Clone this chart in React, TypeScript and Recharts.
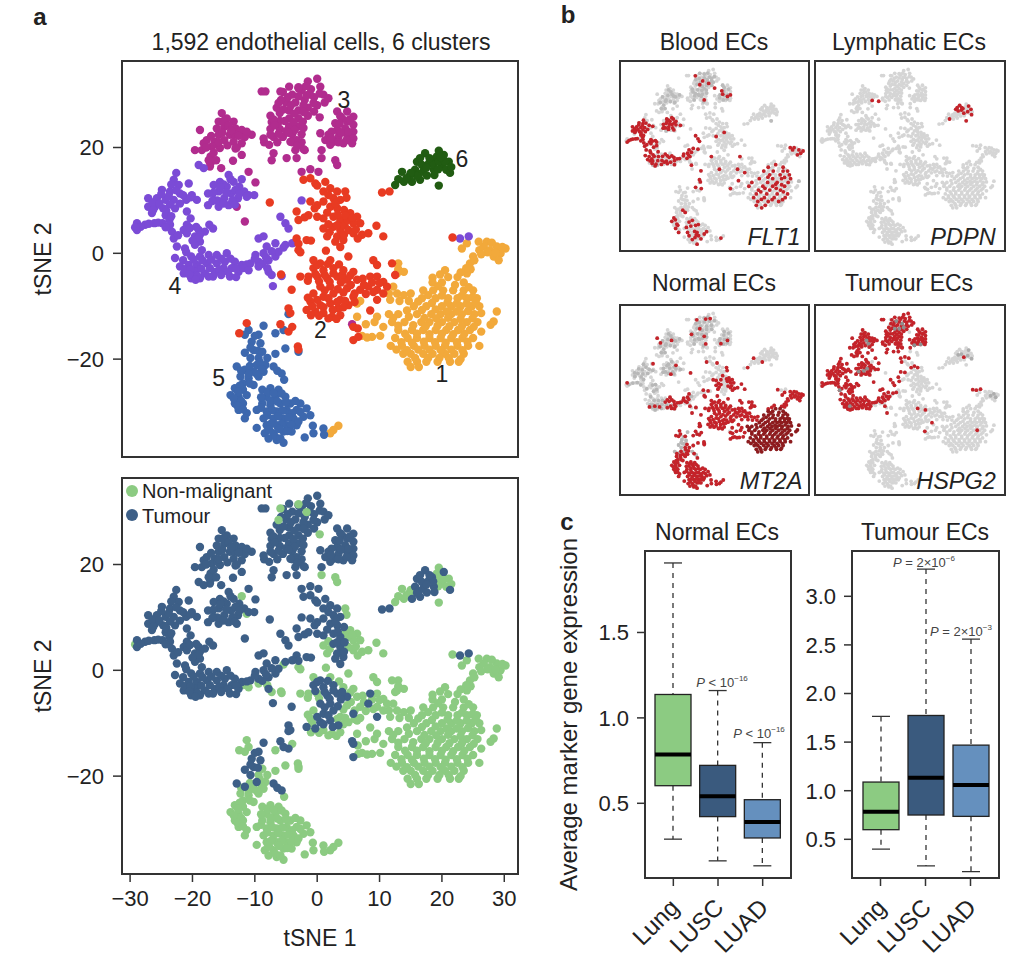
import React from 'react';
import { ScatterChart, Scatter, BarChart, Bar, XAxis, YAxis, ReferenceDot } from 'recharts';

type Pt = [number, number];

// cells, split by cluster and by tumour / non-malignant status
const c1Main: Pt[] = [
  [21, -4.5], [22.5, -4.5], [18.5, -5.5], [20, -5.5], [23.5, -5.5], [17, -7], [18.6, -7], [20.2, -7], [21.8, -7], [23.5, -7], [25, -7],
  [16.8, -8.5], [19, -8.5], [21, -8.5], [22.5, -8.5], [24, -8.5], [25.6, -8.5], [15.5, -10], [17.5, -10], [20, -10], [21.5, -10], [23, -10], [24.8, -10], [26, -10],
  [11.5, -11.5], [13, -11.5], [16, -11.5], [18.3, -11.5], [19.8, -11.5], [21.5, -11.5], [23.2, -11.5], [25.2, -11.5],
  [12, -13], [14, -13], [16.7, -13], [18, -13], [20, -13], [22, -13], [24, -13], [25.7, -13],
  [13, -14.5], [15.2, -14.5], [17, -14.5], [19, -14.5], [20.7, -14.5], [22.6, -14.5], [24.5, -14.5],
  [12.5, -16], [14.5, -16], [16, -16], [18, -16], [19.8, -16], [21.5, -16], [23.3, -16], [25, -16],
  [11.8, -17.5], [13.6, -17.5], [15.5, -17.5], [17.2, -17.5], [19, -17.5], [20.5, -17.5], [22.5, -17.5], [24.2, -17.5], [26, -17.5],
  [13.8, -19], [15, -19], [17, -19], [18.5, -19], [20.5, -19], [22, -19], [23.5, -19],
  [14.5, -20.5], [16, -20.5], [17.5, -20.5], [19.3, -20.5], [21.3, -20.5], [22.7, -20.5], [15, -21.5], [16.3, -21.5],
  [28.8, -11], [28.3, -12.9], [26.3, -14.8], [27.8, -13.5],
  [19.4, -6.2], [22.1, -6], [24.3, -6.4], [17.8, -7.9], [20, -8], [23.2, -8], [24.9, -8.3], [16.2, -9.1], [18.4, -9.4], [20.9, -9.3], [22.4, -9.5], [24, -9.5], [25.4, -9.2],
  [14.4, -10.8], [16.8, -10.7], [19, -10.6], [20.8, -11], [22.4, -11], [24.2, -10.9], [26.3, -11.3], [12.2, -12.2], [14.7, -12], [17.2, -12.2], [19.1, -12.3], [21, -12.2], [23, -12.4], [24.9, -12.3],
  [13, -13.7], [15.4, -13.6], [17.4, -13.8], [19.3, -13.7], [21.2, -13.8], [23.2, -13.8], [25.1, -13.9], [14.1, -15.2], [16, -15.2], [18, -15.3], [20, -15.2], [21.8, -15.3], [23.6, -15.2],
  [13.5, -16.8], [15.2, -16.9], [17.1, -16.7], [18.9, -16.8], [20.6, -16.9], [22.4, -16.8], [24.1, -16.7], [12.7, -18.2], [14.4, -18.3], [16.2, -18.2], [18, -18.2], [19.8, -18.3], [21.5, -18.2], [23.3, -18.3],
  [15.7, -19.8], [17.8, -19.8], [19.6, -19.8], [21.1, -19.8], [23, -20],
];
const c1Tail: Pt[] = [
  [24.5, -1.9], [24, -3.8], [25, -0.6], [26, 0.6], [27.2, 2.2], [28.8, 1.3], [30.2, 0.9], [28.3, -0.6], [26.7, 1.3], [29.4, 0], [25.9, 2.2], [23.2, 0.9], [24, 1.9], [27.7, 0.6], [29.1, -1.3],
  [6.4, -9.5], [6.4, -12], [7.2, -15.6], [8.8, -15.8], [10.1, -15.6], [9.6, -12], [10.6, -13.9], [12.2, -6.3], [11.7, -8.8], [12.8, -7.6], [13.9, -7.9], [15, -7.6], [13, -1.9], [13.9, -3.5], [12.8, -3.8],
  [3.4, -32.6], [2.6, -33.4], [2.1, -34],
  [25.2, -1.3], [27.3, 0.2], [28.6, 0.1], [26.3, -0.2], [24.6, -3], [28, 2], [29.7, 1.2], [23.9, -2.8], [20.5, -3.2], [19.7, -4], [23, -3.6], [18.5, -4.6],
  [11.5, -7.6], [13.2, -9], [14.7, -9], [8, -15.9], [9.2, -13], [6.9, -9], [7.8, -13.4], [13, -3],
];
const c2TUpper: Pt[] = [
  [-2.2, 13.9], [-1.1, 14.2], [-0.3, 13.2], [1.3, 13.5], [2.1, 12.3], [1, 11.7], [3.2, 11.7], [3.7, 10.1], [2.6, 10.4], [-1.1, 9.8], [0, 9.1], [1, 9.8], [2.1, 8.8], [3.2, 8.5], [4.3, 8.2],
  [2.6, 6.9], [3.7, 6.3], [1, 6.6], [0, 6.9], [-1.4, 7.2], [-3.3, 7.9], [-3, 6.3], [2.6, 5], [3.7, 4.4], [-3.3, 2.8], [-1.7, 2.5], [3.2, 3.2], [4.2, 2.5], [3.7, 1.2], [-7.6, 9.6], [10.4, 11.5], [11.6, 11.7],
  [0, 12.8], [1.8, 11], [3, 9.6], [2.9, 9.4], [-0.4, 8.5], [1.6, 7.7], [3.3, 7.3], [-2, 6.8], [3.2, 5.3], [4.4, 5.3], [4.3, 3.5], [2.9, 2.2], [-3, 1.8], [-1, 2.4],
];
const c2TLower: Pt[] = [
  [0.5, -1.9], [1, -3.2], [-0.6, -2.8], [2.6, -2.8], [1.6, -4.7], [3.2, -4.4], [4.8, -5], [2.1, -6.3], [0.5, -6.3], [1, -8.2], [2.6, -7.6], [0.5, -9.8], [2.1, -9.5], [-0.3, -11], [-1.7, -10.7], [3.4, -10.4],
  [5.8, -8.2], [8.5, -4.4], [8.2, -6.3], [9.6, -8.8], [-4.1, -6.9], [-4.6, -10.4], [-4.3, -11.3], [5.8, -13.9], [5.8, -16.4], [-5.9, -13.4], [-4.6, -14.8],
  [0, -2.2], [1.7, -2], [-0.3, -3.9], [1.2, -4.1], [2.6, -3.8], [4, -4.1], [2, -5.4], [3.8, -5.5], [1.2, -7], [3.3, -6.8], [0, -8.8], [1.8, -8.5], [1, -10.2], [2.5, -10.7],
];
const c2N: Pt[] = [
  [4.5, 11.7], [5.3, 7.6], [6.4, 6.9], [6.9, 5.7], [5.8, 5.7], [4.8, 6.3], [1, 4.7], [5, 4.4], [5.8, 3.8], [7.2, 3.5], [8.2, 3.8], [9.5, 5.2], [10.6, 3.2], [1.6, 3.2], [-3, 0.6], [-2.7, 0.2], [1.4, 0.5],
  [-0.6, -1.3], [2.1, -1.3], [5, -0.6], [4.2, -3.2], [5.8, -3.5], [9, -1.3], [9.6, -2.2], [12, -1.9], [12.5, -4.1], [-2.7, -4.4], [-1.4, -4.4], [0, -4.4], [6.4, -5], [9.6, -4.4], [10.6, -5.4], [11.2, -6.3],
  [4.8, -6.6], [6.9, -6.9], [9.6, -6.9], [10.6, -7.6], [-0.6, -7.6], [3.7, -8.8], [-1.1, -9.1], [5, -9.8], [1, -11.3], [2.4, -12], [3.7, -11.7], [8.5, -10.8], [-5.8, -4], [-4, -13.9], [-11.3, -13.2], [-12.5, -15.1],
  [-3.1, -17.6], [-3, -18.2], [6.5, -14.2], [6.6, -15.8], [21.7, 3],
  [4.7, 10.5], [4.5, 7.2], [5.6, 6.7], [1.8, 5.5], [2, 4], [6.2, 4.5], [6.5, 2.8], [3.5, -2.1], [5.3, -4.2], [7.3, -4.8], [8.8, -5.5], [10, -5.6], [-1.5, -5.2], [0.3, -5.3], [5.4, -6], [7.5, -6], [9, -7.3],
  [4.2, -7.4], [6, -7.6], [7.8, -7.7], [3.2, -9.2], [4.5, -9], [6, -9.2], [-1.5, -8.4], [-0.8, -10], [4.2, -10.2], [-1, -11.7], [0.3, -11.8], [1.8, -12.3], [3.1, -12.4],
];
const c3T: Pt[] = [
  [-4.5, 31.5], [-1.5, 32.5], [0, 33], [-5.5, 30.5], [-4, 30], [-2.5, 30.8], [-1, 31], [0.5, 31.5], [1, 30], [-0.5, 29.5], [-2, 29], [-3.5, 28.5], [-5, 28.5], [0, 28], [1.2, 28.5], [-1.5, 27.5], [-3, 27], [-4.5, 27],
  [-6, 26.5], [-7.5, 26], [-6.5, 27.5], [-7.3, 24.8], [-6, 25], [-4.5, 25.5], [-3, 25.5], [-1.5, 26], [-7.5, 23.5], [-6, 23.5], [-4.5, 24], [-3, 24], [-5.5, 22], [-4, 22.5], [-2.5, 22.5], [-7, 22],
  [-4, 21], [-2.5, 21], [-8.5, 21], [-7.7, 20.5], [-3.5, 19.5], [-2, 19.5], [-3.3, 18], [-7, 18.9], [-7.3, 17.6], [-4.9, 18], [-2.2, 19.7], [-3.3, 21.4], [-4.3, 21.1], [-8.6, 21.7], [-7.5, 22.4], [-8.9, 30.6], [-8.3, 30.6], [1.8, 29.3],
  [3.2, 26.8], [4.8, 26.8], [5.8, 25.8], [4, 25.5], [2.9, 24.6], [4.8, 24.9], [5.8, 24.3], [3.2, 23.3], [4.5, 23.6], [5.8, 23], [0.5, 22.7], [1.8, 22.4], [3.4, 22], [4.8, 22.4], [5.8, 21.7], [1.3, 21.4], [2.6, 21.1], [4.2, 20.8], [5.6, 20.8], [2.1, 20.5], [0.7, 19.5],
  [-15.3, 26.5], [-14.5, 25.5], [-15.8, 24.9], [-13.4, 24.9], [-14.9, 23.9], [-16.1, 23.6], [-13.1, 23.6], [-18.8, 23.3], [-12.1, 23.3], [-15.8, 22.4], [-14, 22.4], [-10.5, 22.4], [-11.6, 22], [-17.7, 21.4], [-16.4, 21.1], [-14.9, 21.4], [-13.4, 21.1], [-12.1, 20.8],
  [-18.2, 20.8], [-16.9, 20.2], [-15.6, 19.9], [-19.6, 19.5], [-18.5, 19.5], [-13.1, 19.8], [-12.1, 18.6], [-17.1, 18.3], [-17.1, 17], [-13.5, 17.5], [-15.4, 16.1], [-17.2, 16.4],
  [-2.5, 15.4], [-1.1, 15.9], [0.2, 15.4], [-11, 15.4], [-9.9, 13.4], [-11.6, 6], [-12.9, 8.8], [5.6, -13.4],
];
const c3Fill: Pt[] = [
  [-3, 31.2], [-1.8, 31.6], [-4.7, 29.5], [-3, 29.7], [-1.2, 30], [0.4, 30.2], [-5.8, 29], [-4.2, 28], [-2.2, 28], [-0.6, 28.4], [-5.4, 27.2], [-3.7, 26.4], [-2.2, 26.7], [-0.5, 26.8], [-7, 25.3], [-5.2, 25], [-3.8, 24.8], [-2.3, 24.9], [-6.8, 24.2], [-5, 23.1], [-3.6, 23.3], [-2.2, 23.7], [-6.2, 22.6], [-4.6, 22.8], [-3.2, 20.3], [-6.4, 21],
  [3.7, 25.9], [5.2, 25.3], [3.6, 24.5], [2.3, 23], [3.8, 22.8], [5, 23], [2.2, 21.8], [3.4, 21], [4.7, 21.4],
  [-15, 25], [-14.2, 24.2], [-15.2, 22.8], [-13.2, 22.5], [-12.6, 22.2], [-17, 22.2], [-16, 20.5], [-14.4, 20.4], [-12.9, 20], [-17.8, 20], [-15.8, 21], [-16.6, 19], [-17.4, 17.6], [-16.2, 17.6], [-11.3, 23], [-13.8, 23.2],
];
const c3N: Pt[] = [[-5.9, 30.6], [-3, 31.4], [-1.7, 29.9], [-6.2, 28.4], [0.4, 25.7], [0.7, 18], [2.9, 17.6], [3.2, 16.7]];
const c4T: Pt[] = [
  [-19, 16.7], [-18.2, 16.1], [-14.2, 14.8], [-15.6, 13.5], [-13.4, 13.5], [-16.6, 12.9], [-14.5, 12.6], [-12.5, 12.6], [-17.5, 11.3], [-15.8, 11.7], [-13.8, 11.3], [-11.7, 11.7], [-10.1, 11], [-16.6, 10.1], [-14.9, 10.4], [-12.7, 10.4], [-17.5, 9.1], [-15.8, 8.8], [-14.2, 9.1],
  [-22.6, 15.2], [-23, 13.9], [-22.2, 12.9], [-20.6, 13.2], [-24.9, 12], [-23.6, 11.7], [-22, 11.3], [-20.1, 11], [-27.1, 10.4], [-25.7, 10.4], [-24.3, 10.1], [-23, 10.1], [-21, 10.1], [-19.3, 10.1], [-27.1, 8.8], [-26, 8.8], [-24.7, 8.5], [-22.8, 8.5],
  [-26.5, 7.6], [-24.3, 7.2], [-20.9, 7.9], [-23.7, 6.3], [-20.3, 6.6], [-28.9, 5.7], [-26.1, 5.7], [-24.8, 5.7], [-27.6, 5.4], [-23.6, 5.4], [-20.9, 5.4], [-19, 4.4], [-28.9, 4.4], [-17.3, 5.4], [-21.4, 4.4], [-16.7, 4.7], [-23.3, 4.1], [-20.9, 3.8], [-18, 4.1], [-19.6, 3.2], [-23, 2.8], [-18.8, 2.2],
  [-9.4, 2.8], [-8.6, 3.2], [-5.9, 6.9], [-5.1, 5.7], [-4.6, 4.7], [-2.5, 10], [22.9, 2.8], [24.3, 3.2], [-18.8, 3.5],
  [-22.5, 1.3], [-21.2, 0.9], [-19.6, 1.6], [-18.5, 0.6], [-22.8, -0.9], [-21.5, -1.3], [-20.2, -0.6], [-18.8, -0.6], [-17.4, -0.3], [-16.1, -0.3], [-14.5, 0], [-22, -2.5], [-20.6, -2.2], [-19.3, -2.2], [-17.7, -1.9], [-16.1, -1.9], [-14.8, -1.6], [-13.2, -1.6],
  [-21.4, -3.8], [-19.6, -3.5], [-18, -3.8], [-16.4, -3.5], [-15, -2.8], [-13.7, -2.8], [-12.1, -2.2], [-10.7, -1.9], [-9.4, -1.6], [-20.2, -4.7], [-18.8, -4.7], [-16.7, -4.4], [-14, -4.4], [-12.6, -3.5], [-9.9, -0.3], [-8.6, 0], [-8.1, 1.3], [-6.7, 1.9], [-5.1, 1.6], [-4, 1.9],
  [-7.8, -1.3], [-6.7, -0.6], [-6.2, 0.3], [-7.8, -3.5], [-7.1, -6.2],
];
const c4Fill: Pt[] = [
  [-23.4, 13], [-22.6, 11.9], [-23.8, 10.8], [-21.5, 11], [-25, 11.2], [-26.4, 9.6], [-25.3, 9.4], [-23.6, 9.2], [-22, 9.4], [-20.3, 10.6], [-26.3, 8.2], [-24.2, 8], [-23.4, 7], [-28.3, 5], [-27, 5.6], [-25.5, 5.8], [-24.3, 4.9],
  [-15, 13], [-13.9, 14], [-15.5, 12.5], [-13.1, 12], [-14.6, 11.5], [-16.7, 11.4], [-12.5, 11.2], [-11, 11], [-16, 10], [-13.6, 10], [-15, 9.4], [-16.8, 9.9], [-13.2, 9.2],
  [-21, 0.2], [-19.8, -1.2], [-18.4, -1.3], [-17, -1.2], [-15.4, -1], [-13.9, -1], [-21.2, -3], [-20.3, -3], [-18.6, -2.9], [-17.2, -2.8], [-15.7, -3.1], [-14.3, -3.5], [-13, -2.9], [-11.3, -2.1], [-10, -1],
  [-20.5, -4], [-19.2, -4.3], [-17.4, -4.4], [-15.4, -4.1], [-13, -4.5], [-19.5, -5], [-8.8, -2], [-8.2, -0.8], [-7.3, 0.4], [-19, 3], [-20, 2.4], [-19.4, 5], [-20.4, 4.8], [-22.3, 3.4],
];
const c4N: Pt[] = [[-12.1, 14], [-11.3, 10.7], [-29.2, 4.9], [-11.8, -2.8], [-11, -3.2], [-9.4, -2.5], [-8, -2.8], [-7.3, -4.1], [-5.7, -4.3], [-5.4, 1.1]];
const c5T: Pt[] = [
  [-8.6, -13.7], [-9.4, -15.4], [-5.4, -14.5], [-4.6, -11.5], [-10.5, -16.7], [-9.1, -17], [-11.6, -18.8], [-10.2, -18.3], [-10.7, -19.8], [-9.7, -21.1], [-12.9, -21.4], [-11.6, -22], [-7, -21.4], [-5.7, -22.7], [-6.4, -22.2],
  [-10, -15.6], [-10.7, -17.8], [-9.5, -18.4],
];
const c5N: Pt[] = [
  [-11, -14.5], [-11.6, -15.4], [-6.7, -15.1], [-5.1, -18], [-6.7, -19], [-3, -18.6], [-8.8, -18.6], [-9.4, -19.8], [-8, -19.8], [-8.3, -21.1], [-10.2, -22.4], [-8.6, -22.4], [-12.3, -23.3], [-11, -23.6], [-9.4, -23.3], [-5.3, -23.9],
  [-11.9, -24.6], [-10.2, -24.9], [-13.2, -25.5], [-11.9, -25.8], [-8.8, -25.8], [-7.5, -25.5], [-6.2, -25.8], [-13.9, -26.8], [-12.6, -27.1], [-11.3, -26.8], [-8.1, -27.1], [-6.7, -27.1], [-5.1, -27.1],
  [-13.2, -28.4], [-11.9, -28.4], [-8.8, -28.4], [-7.5, -28.7], [-5.9, -28.4], [-4.3, -28.4], [-2.7, -28.4], [-12.6, -29.6], [-11.3, -30.2], [-9.7, -29.6], [-8.1, -29.9], [-6.5, -29.9], [-4.9, -29.6], [-3.3, -29.6], [-1.7, -29.3],
  [-11.6, -31.2], [-8.6, -31.2], [-7, -31.2], [-5.4, -31.2], [-3.8, -31.2], [-2.2, -30.9], [-1.1, -30.6], [-9.7, -33], [-8.1, -32.5], [-6.5, -32.5], [-4.9, -32.5], [-3.3, -32.5], [-0.7, -32.6],
  [-8.4, -34], [-7, -34], [-5.4, -33.7], [-4.1, -33.7], [-0.6, -34], [1, -33.1], [1.1, -34.3], [-7.8, -35], [-6.5, -35.3], [-5.4, -35.8], [-2, -34.8],
  [-9.2, -20.6], [-8.9, -21.9], [-10.8, -21.3], [-9.7, -22.8], [-11, -22.8], [-12.2, -22.2], [-10.8, -24.6], [-12.4, -25], [-12.7, -26.2], [-13.4, -27.4], [-12.2, -27.9], [-12.8, -28.8], [-11.9, -29.5],
  [-8, -26.2], [-7, -26.4], [-5.7, -26.5], [-9, -27.2], [-7.5, -27.9], [-6.4, -28], [-5, -28.1], [-3.5, -27.9], [-9, -29.2], [-7.2, -29.6], [-5.6, -29.7], [-4, -30.2], [-2.7, -30], [-8, -30.6], [-6.2, -30.8], [-4.6, -31], [-3, -31.8],
  [-7.4, -32.2], [-5.7, -32.2], [-4.2, -32.4], [-7.7, -33.3], [-6.1, -33.2], [-4.8, -33.6], [-6.7, -34.7], [-5.9, -35],
];
const c6T: Pt[] = [[15.7, 15.8], [16, 17.3], [17.3, 18.9], [17.9, 17], [16.5, 13.9], [16.8, 16.7], [18.4, 17.6], [18.7, 15.8], [20.3, 18.6], [21.3, 15.2], [15.2, 13.5], [17, 15.4], [16.2, 15], [17.6, 14.7], [18.6, 16.8], [17.5, 16.2], [16.5, 18], [18, 18], [16, 14.6], [18.8, 14.8]];
const c6N: Pt[] = [[12.5, 12.9], [13.6, 15.4], [13.9, 13.5], [14.9, 14.8], [19.2, 18.3], [19.5, 19.4], [21.1, 17.3], [20, 16.4], [19.5, 12.8], [15, 15.2], [19.5, 17.4], [20.5, 17.3], [19.4, 15.9], [20.7, 15.8], [19.8, 18.2], [21.5, 16.3], [14.3, 14.2], [13, 14]];

// cells lit up in the small marker gene maps
const flt1High: Pt[] = [
  [-28.9, 4.4], [-27.6, 5.4], [-26.1, 5.7], [-27.1, 8.8], [-26, 8.8], [-27.1, 10.4], [-25.7, 10.4], [-24.9, 12], [-24.3, 10.1], [-23.6, 11.7], [-24.7, 8.5], [-22.8, 8.5], [-23, 10.1], [-23.7, 6.3], [-24.3, 7.2], [-23.6, 5.4], [-20.9, 5.4], [-19, 4.4], [-23.3, 4.1], [-21.4, 4.4], [-20.9, 3.8], [-23, 2.8],
  [-22.5, 1.3], [-21.2, 0.9], [-22.8, -0.9], [-21.5, -1.3], [-20.2, -0.6], [-18.5, 0.6], [-16.1, -0.3], [-14.8, -1.6], [-13.2, -1.6], [-12.1, -2.2], [-22, -2.5], [-20.6, -2.2], [-16.4, -3.5],
  [-15.6, 13.5], [-13.4, 13.5], [-14.5, 12.6], [-15.8, 11.7], [-13.8, 11.3], [-16.6, 10.1], [-14.9, 10.4], [-12.5, 12.6],
  [-9.9, -0.3], [-8.6, 0], [-8.1, 1.3], [-6.7, 1.9], [-5.1, 1.6], [-7.8, -1.3], [-7.3, -4.7], [-5.9, 6.9], [-5.1, 5.7], [-4.6, 4.7],
  [-6, 30.5], [-3.5, 28.5], [-4.5, 27], [-1.5, 27.5], [0.5, 25.7], [3.2, 23.3], [4.8, 22.4], [5.8, 23], [2.9, 24.6], [-3, 21],
  [1, 6.6], [3.7, 8.2], [-0.6, -1.3], [2.1, -6.3], [-4.1, -6.9], [-4.6, -10.4], [-4.3, -11.3], [-5.9, -13.4], [-4, -13.9], [5.8, -13.9], [8.5, -10.8], [9, -1.3], [8.2, -6.3], [10.6, -7.6],
  [27.2, 2.2], [28.8, 1.3], [30.2, 0.9], [28.3, -0.6], [26.7, 1.3], [29.4, 0], [25.9, 2.2],
  [21, -4.5], [18.5, -5.5], [23.5, -5.5], [17, -7], [20.2, -7], [23.5, -7], [25, -7], [19, -8.5], [22.5, -8.5], [25.6, -8.5], [15.5, -10], [20, -10], [23, -10], [26, -10], [13, -11.5], [18.3, -11.5], [21.5, -11.5], [25.2, -11.5],
  [12, -13], [16.7, -13], [20, -13], [24, -13], [15.2, -14.5], [19, -14.5], [22.6, -14.5], [14.5, -16], [18, -16], [21.5, -16], [25, -16], [13.6, -17.5], [17.2, -17.5], [20.5, -17.5], [24.2, -17.5], [15, -19], [18.5, -19], [22, -19], [14.5, -20.5], [17.5, -20.5], [16.3, -21.5],
  [-13.2, -25.5], [-11.9, -28.4], [-12.6, -29.6], [-13.9, -26.8], [-9.4, -23.3], [-8.1, -27.1], [-7.5, -28.7], [-5.9, -28.4], [-8.6, -31.2], [-5.4, -31.2], [-2.2, -30.9], [-8.1, -32.5], [-4.9, -32.5], [-7, -34], [-4.1, -33.7], [-5.4, -35.8], [2.6, -33.4], [-10.2, -22.4],
  [-12.7, -26.2], [-12.2, -27.9], [-7, -26.4], [-5, -28.1], [-6.2, -30.8], [-3, -31.8], [-5.7, -32.2], [-6.1, -33.2], [-11.6, -31.2], [-9, -29.2], [21, -12.2], [23, -12.4], [17.4, -13.8], [21.2, -13.8], [16, -15.2], [23.6, -15.2], [19.8, -18.3], [23.3, -18.3], [16.2, -18.2], [24, -9.5], [18.4, -9.4],
];
const flt1Mid: Pt[] = [[-4.5, 31.5], [-0.5, 29.5], [-2, 29], [-3, 25.5], [-6, 23.5], [-4, 22.5], [0, 28], [3.2, 26.8], [-15.8, 8.8], [-20.2, -4.7], [-18.8, -4.7], [19.5, 12.8], [28.8, -11], [22.5, -19]];
const pdpnHigh: Pt[] = [[16, 17.3], [17.3, 18.9], [17.9, 17], [16.8, 16.7], [18.4, 17.6], [18.7, 15.8], [20.3, 18.6], [21.3, 15.2], [21.1, 17.3], [20, 16.4], [19.5, 12.8], [13.9, 13.5], [16.5, 18], [18, 18], [-12.1, 20.8], [-9.9, 20.5]];
const mt2aExtra: Pt[] = [
  [-2.2, 13.9], [1.3, 13.5], [3.2, 8.5], [2.6, 6.9], [0, 6.9], [1, 6.6], [2.6, 5], [-3.3, 2.8], [-1.7, 2.5], [-7.6, 9.6], [11.6, 11.7], [-14.2, 9.1], [-12.5, 12.6], [-20.2, 13.2],
  [-14.5, 0], [-16.1, -1.9], [-14.8, -1.6], [-13.2, -1.6], [-14, -4.4], [-12.6, -3.5], [-12.1, -2.2], [-10.7, -1.9], [-9.4, -1.6], [-9.9, -0.3], [-8.6, 0], [-8.1, 1.3], [-7.8, -3.5], [-7.1, -6.2], [-21.4, -3.8], [-19.6, -3.5], [-18, -3.8],
  [-28.9, 5.7], [-18.8, 23.3], [-17.7, 21.4], [-14, 22.4], [-5.5, 30.5], [-2.5, 30.8], [-1, 31], [-4.5, 27], [-3, 24], [-7.3, 24.8], [-2.5, 21], [4.8, 22.4], [2.6, 21.1], [16.5, 13.9], [13.6, 15.4],
  [-4.6, -11.5], [-5.4, -14.5], [-6.4, -22.2], [-9.4, -15.4],
  [-13.9, -1], [-15.4, -1], [-13, -2.9], [-11.3, -2.1], [-10, -1], [-8.8, -2], [-8.2, -0.8], [-14.3, -3.5], [-13, -4.5], [-15.4, -4.1],
];
const hspg2High: Pt[] = [[-2.2, 13.9], [1, 11.7], [2.1, 12.3], [3.2, 11.7], [-1.1, 9.8], [-3.3, 7.9], [-3, 6.3], [18.7, 15.8], [21.7, 3], [5.8, -5], [3.2, -4.4], [8, -10], [23.2, -13]];
const hspg2Mid: Pt[] = [[-4.5, 27], [-3, 27], [-1.5, 27.5], [-4, 30], [-2, 29], [4.2, 20.8], [2.1, 20.5], [-14, 22.4], [-13.4, 21.1], [-23, 2.8], [-19.6, -3.5], [-13.8, 11.3], [-14.9, 10.4], [-16.6, 10.1]];
const hspg2Faint: Pt[] = [[20.3, 18.6], [21.3, 15.2], [20, 16.4], [17.9, 17], [16.8, 16.7], [28.8, 1.3], [29.4, 0], [27.7, 0.6]];

const clusterNames = ['1', '2', '3', '4', '5', '6'];
const clusterLabelX = [20, 0.5, 4.3, -22.8, -15.8, 23.2];
const clusterLabelY = [-22.7, -14.5, 29.1, -6.2, -23.6, 17.8];

const tsneTicksX = [-30, -20, -10, 0, 10, 20, 30];
const tsneTicksY = [-20, 0, 20];
const boxGroups = ['Lung', 'LUSC', 'LUAD'];
const normalMin = [0.29, 0.163, 0.134];
const normalQ1 = [0.603, 0.422, 0.297];
const normalMed = [0.785, 0.541, 0.391];
const normalQ3 = [1.137, 0.722, 0.521];
const normalMax = [1.907, 1.16, 0.855];
const tumourMin = [0.4, 0.226, 0.168];
const tumourQ1 = [0.599, 0.75, 0.736];
const tumourMed = [0.784, 1.134, 1.058];
const tumourQ3 = [1.089, 1.774, 1.469];
const tumourMax = [1.764, 3.28, 2.56];
const boxColors = ['#8CCB82', '#3A5A7E', '#6590BE'];

const FONT = '"Liberation Sans", Arial, sans-serif';
const INK = '#222';
const X_DOMAIN: [number, number] = [-31.3, 32.2];
const Y_DOMAIN: [number, number] = [-38.5, 36.35];

const allCells: Pt[] = [...c1Main, ...c1Tail, ...c2TUpper, ...c2TLower, ...c2N, ...c3T, ...c3Fill, ...c3N, ...c4T, ...c4Fill, ...c4N, ...c5T, ...c5N, ...c6T, ...c6N];
const pts = (list: Pt[]) => list.map(([x, y]) => ({ x, y }));
const dot = (r: number) => (p: any) => <circle cx={p.cx} cy={p.cy} r={r} fill={p.fill} />;
const minus = (v: number) => String(v).replace('-', '\u2212');

function Frame({ l, t, w, h }: { l: number; t: number; w: number; h: number }) {
  return <div style={{ position: 'absolute', left: l - 1, top: t - 1, width: w + 2, height: h + 2, boxSizing: 'border-box', border: '2px solid #333', pointerEvents: 'none' }} />;
}

function Txt({ x, y, size = 23, children, style }: { x: number; y: number; size?: number; children: React.ReactNode; style?: React.CSSProperties }) {
  // x,y is the centre of the text on the page
  return (
    <div style={{ position: 'absolute', left: x, top: y, transform: 'translate(-50%,-50%)', fontFamily: FONT, fontSize: size, color: INK, whiteSpace: 'nowrap', lineHeight: 1, ...style }}>
      {children}
    </div>
  );
}

function TsnePanel({ top, showTicks, children }: { top: number; showTicks: boolean; children: React.ReactNode }) {
  const w = 396;
  const h = 396;
  const tickStyle = { fontFamily: FONT, fontSize: 22, fill: INK };
  return (
    <div style={{ position: 'absolute', left: 0, top: top - 5 }}>
      <ScatterChart width={122 + w + 5} height={5 + h + 80} margin={{ top: 5, right: 5, left: 0, bottom: 0 }}>
        <XAxis
          type="number"
          dataKey="x"
          domain={X_DOMAIN}
          ticks={tsneTicksX}
          allowDataOverflow
          axisLine={false}
          height={80}
          tick={showTicks ? tickStyle : false}
          tickSize={8}
          tickMargin={8}
          tickLine={{ stroke: '#333', strokeWidth: 1.5 }}
          tickFormatter={minus}
          label={showTicks ? { value: 'tSNE 1', position: 'insideBottom', offset: 8, style: { fontFamily: FONT, fontSize: 23, fill: INK } } : undefined}
        />
        <YAxis
          type="number"
          dataKey="y"
          domain={Y_DOMAIN}
          ticks={tsneTicksY}
          allowDataOverflow
          axisLine={false}
          width={122}
          tick={tickStyle}
          tickSize={9}
          tickMargin={9}
          tickLine={{ stroke: '#333', strokeWidth: 1.5 }}
          tickFormatter={minus}
          label={{ value: 'tSNE 2', angle: -90, position: 'insideLeft', offset: 43, style: { fontFamily: FONT, fontSize: 23, fill: INK, textAnchor: 'middle' } }}
        />
        {children}
      </ScatterChart>
    </div>
  );
}

function MiniMap({ left, top, layers }: { left: number; top: number; layers: { cells: Pt[]; color: string }[] }) {
  return (
    <div style={{ position: 'absolute', left, top }}>
      <ScatterChart width={189} height={190} margin={{ top: 0, right: 0, left: 0, bottom: 0 }}>
        <XAxis type="number" dataKey="x" domain={X_DOMAIN} hide allowDataOverflow />
        <YAxis type="number" dataKey="y" domain={Y_DOMAIN} hide allowDataOverflow />
        <Scatter data={pts(allCells)} fill="#D5D5D5" shape={dot(1.9)} isAnimationActive={false} />
        {layers.map((l, i) => (
          <Scatter key={i} data={pts(l.cells)} fill={l.color} shape={dot(1.9)} isAnimationActive={false} />
        ))}
      </ScatterChart>
    </div>
  );
}

// Recharts has no box plot: one range bar per group, drawn by a custom shape.
// The bar spans min..max, so the quartiles are placed along its pixel height.
function BoxShape(props: any) {
  const { x, y, width, height, payload } = props;
  const toY = (v: number) => y + ((payload.max - v) / (payload.max - payload.min)) * height;
  const cx = x + width / 2;
  const cap = 9;
  return (
    <g>
      <line x1={cx} x2={cx} y1={toY(payload.max)} y2={toY(payload.q3)} stroke="#333" strokeWidth={1.3} strokeDasharray="5 5" />
      <line x1={cx} x2={cx} y1={toY(payload.q1)} y2={toY(payload.min)} stroke="#333" strokeWidth={1.3} strokeDasharray="5 5" />
      <line x1={cx - cap} x2={cx + cap} y1={toY(payload.max)} y2={toY(payload.max)} stroke="#333" strokeWidth={1.3} />
      <line x1={cx - cap} x2={cx + cap} y1={toY(payload.min)} y2={toY(payload.min)} stroke="#333" strokeWidth={1.3} />
      <rect x={x} y={toY(payload.q3)} width={width} height={toY(payload.q1) - toY(payload.q3)} fill={payload.color} stroke="#222" strokeWidth={1.3} />
      <line x1={x} x2={x + width} y1={toY(payload.med)} y2={toY(payload.med)} stroke="#000" strokeWidth={4} />
    </g>
  );
}

function BoxPanel(props: { left: number; width: number; domain: [number, number]; ticks: number[]; mins: number[]; q1s: number[]; meds: number[]; q3s: number[]; maxs: number[]; yLabel?: string }) {
  const { left, width, domain, ticks, mins, q1s, meds, q3s, maxs, yLabel } = props;
  const rows = boxGroups.map((name, i) => ({ name, range: [mins[i], maxs[i]], min: mins[i], q1: q1s[i], med: meds[i], q3: q3s[i], max: maxs[i], color: boxColors[i] }));
  const tickStyle = { fontFamily: FONT, fontSize: 22, fill: INK };
  return (
    <div style={{ position: 'absolute', left: left - 100, top: 530 }}>
      <BarChart width={100 + width + 5} height={21 + 327 + 80} data={rows} margin={{ top: 21, right: 5, left: 0, bottom: 0 }}>
        <XAxis dataKey="name" interval={0} axisLine={false} height={80} padding={{ left: 6, right: 6 }} tick={{ ...tickStyle, fontSize: 24, dx: -5, dy: 2 }} angle={-45} textAnchor="end" tickSize={8} tickMargin={9} tickLine={{ stroke: '#333', strokeWidth: 1.5 }} />
        <YAxis
          type="number"
          domain={domain}
          ticks={ticks}
          allowDataOverflow
          axisLine={false}
          width={100}
          tick={tickStyle}
          tickSize={8}
          tickMargin={8}
          tickFormatter={(v: number) => v.toFixed(1)}
          tickLine={{ stroke: '#333', strokeWidth: 1.5 }}
          label={yLabel ? { value: yLabel, angle: -90, position: 'insideLeft', offset: 23, style: { fontFamily: FONT, fontSize: 24, fill: INK, textAnchor: 'middle' } } : undefined}
        />
        <Bar dataKey="range" barSize={36} shape={BoxShape} isAnimationActive={false} />
      </BarChart>
    </div>
  );
}

function PVal({ x, y, op, exp }: { x: number; y: number; op: string; exp: string }) {
  return (
    <Txt x={x} y={y} size={13} style={{ color: '#444' }}>
      <i>P</i> {op}10
      <span style={{ fontSize: 8, verticalAlign: 6 }}>{exp}</span>
    </Txt>
  );
}

export default function App() {
  return (
    <div style={{ position: 'absolute', left: 0, top: 0, width: 1026, height: 960, background: '#fff', overflow: 'hidden' }}>
      <Txt x={40} y={17} size={24} style={{ fontWeight: 700 }}>a</Txt>
      <Txt x={568} y={15} size={24} style={{ fontWeight: 700 }}>b</Txt>
      <Txt x={567} y={522} size={24} style={{ fontWeight: 700 }}>c</Txt>

      <Txt x={321} y={42}>1,592 endothelial cells, 6 clusters</Txt>
      <TsnePanel top={61} showTicks={false}>
        <Scatter data={pts([...c1Main, ...c1Tail])} fill="#F2A93B" shape={dot(4.2)} isAnimationActive={false} />
        <Scatter data={pts([...c5T, ...c5N])} fill="#3D68AE" shape={dot(4.2)} isAnimationActive={false} />
        <Scatter data={pts([...c3T, ...c3Fill, ...c3N])} fill="#B12C8E" shape={dot(4.2)} isAnimationActive={false} />
        <Scatter data={pts([...c4T, ...c4Fill, ...c4N])} fill="#7B4BD6" shape={dot(4.2)} isAnimationActive={false} />
        <Scatter data={pts([...c2TUpper, ...c2TLower, ...c2N])} fill="#E83B22" shape={dot(4.2)} isAnimationActive={false} />
        <Scatter data={pts([...c6T, ...c6N])} fill="#215C12" shape={dot(4.2)} isAnimationActive={false} />
        {clusterNames.map((n, i) => (
          <ReferenceDot key={n} x={clusterLabelX[i]} y={clusterLabelY[i]} r={0} fill="none" stroke="none" label={{ value: n, position: 'center', style: { fontFamily: FONT, fontSize: 23, fill: INK } }} />
        ))}
      </TsnePanel>
      <Frame l={122} t={61} w={396} h={396} />

      <TsnePanel top={478} showTicks>
        <Scatter name="Non-malignant" data={pts([...c1Main, ...c1Tail, ...c2N, ...c4N, ...c5N, ...c6N])} fill="#8CCB82" shape={dot(4.2)} isAnimationActive={false} />
        <Scatter name="Tumour" data={pts([...c2TUpper, ...c2TLower, ...c3T, ...c3Fill, ...c4T, ...c4Fill, ...c5T, ...c6T])} fill="#3D5F87" shape={dot(4.2)} isAnimationActive={false} />
        <Scatter name="Non-malignant" data={pts(c3N)} fill="#8CCB82" shape={dot(4.2)} isAnimationActive={false} />
      </TsnePanel>
      <Frame l={122} t={478} w={396} h={396} />
      <div style={{ position: 'absolute', left: 126, top: 485, width: 12, height: 12, borderRadius: 6, background: '#8CCB82' }} />
      <div style={{ position: 'absolute', left: 126, top: 509, width: 12, height: 12, borderRadius: 6, background: '#3D5F87' }} />
      <Txt x={142} y={491} size={20} style={{ transform: 'translate(0,-50%)' }}>Non-malignant</Txt>
      <Txt x={142} y={516} size={20} style={{ transform: 'translate(0,-50%)' }}>Tumour</Txt>

      <Txt x={714} y={42}>Blood ECs</Txt>
      <Txt x={909} y={42}>Lymphatic ECs</Txt>
      <Txt x={714} y={283}>Normal ECs</Txt>
      <Txt x={909} y={283}>Tumour ECs</Txt>
      <MiniMap left={620} top={61} layers={[{ cells: [...c3Fill, ...flt1Mid], color: '#BBBBBB' }, { cells: [...flt1High, ...c4Fill], color: '#C4232A' }]} />
      <MiniMap left={815} top={61} layers={[{ cells: pdpnHigh, color: '#C4232A' }]} />
      <MiniMap left={620} top={305} layers={[{ cells: [...c3Fill, ...c4Fill, ...c5T], color: '#B8B8B8' }, { cells: [...c1Tail, ...c2N, ...c2TLower, ...c5N, ...mt2aExtra], color: '#C4232A' }, { cells: c1Main, color: '#8E1B1E' }]} />
      <MiniMap left={815} top={305} layers={[{ cells: [...c3T, ...c3Fill, ...c4T, ...c4Fill, ...hspg2High], color: '#C4232A' }, { cells: hspg2Mid, color: '#8F8F8F' }, { cells: hspg2Faint, color: '#ADADAD' }]} />
      <Frame l={620} t={61} w={189} h={190} />
      <Frame l={815} t={61} w={190} h={190} />
      <Frame l={620} t={305} w={189} h={190} />
      <Frame l={815} t={305} w={190} h={190} />
      <Txt x={774} y={238} size={23.5} style={{ fontStyle: 'italic' }}>FLT1</Txt>
      <Txt x={963} y={238} size={23.5} style={{ fontStyle: 'italic' }}>PDPN</Txt>
      <Txt x={771} y={482} size={23.5} style={{ fontStyle: 'italic' }}>MT2A</Txt>
      <Txt x={956} y={482} size={23.5} style={{ fontStyle: 'italic' }}>HSPG2</Txt>

      <Txt x={717} y={532}>Normal ECs</Txt>
      <Txt x={925} y={532}>Tumour ECs</Txt>
      <BoxPanel left={645} width={146} domain={[0.0626, 1.977]} ticks={[0.5, 1.0, 1.5]} mins={normalMin} q1s={normalQ1} meds={normalMed} q3s={normalQ3} maxs={normalMax} yLabel="Average marker gene expression" />
      <BoxPanel left={852} width={147} domain={[0.102, 3.466]} ticks={[0.5, 1.0, 1.5, 2.0, 2.5, 3.0]} mins={tumourMin} q1s={tumourQ1} meds={tumourMed} q3s={tumourQ3} maxs={tumourMax} />
      <Frame l={645} t={551} w={146} h={327} />
      <Frame l={852} t={551} w={147} h={327} />
      <PVal x={722} y={682} op="< " exp={'\u221216'} />
      <PVal x={759} y={733} op="< " exp={'\u221216'} />
      <PVal x={924} y={562} op={'= 2\u00d7'} exp={'\u22126'} />
      <PVal x={961} y={631} op={'= 2\u00d7'} exp={'\u22123'} />
    </div>
  );
}
